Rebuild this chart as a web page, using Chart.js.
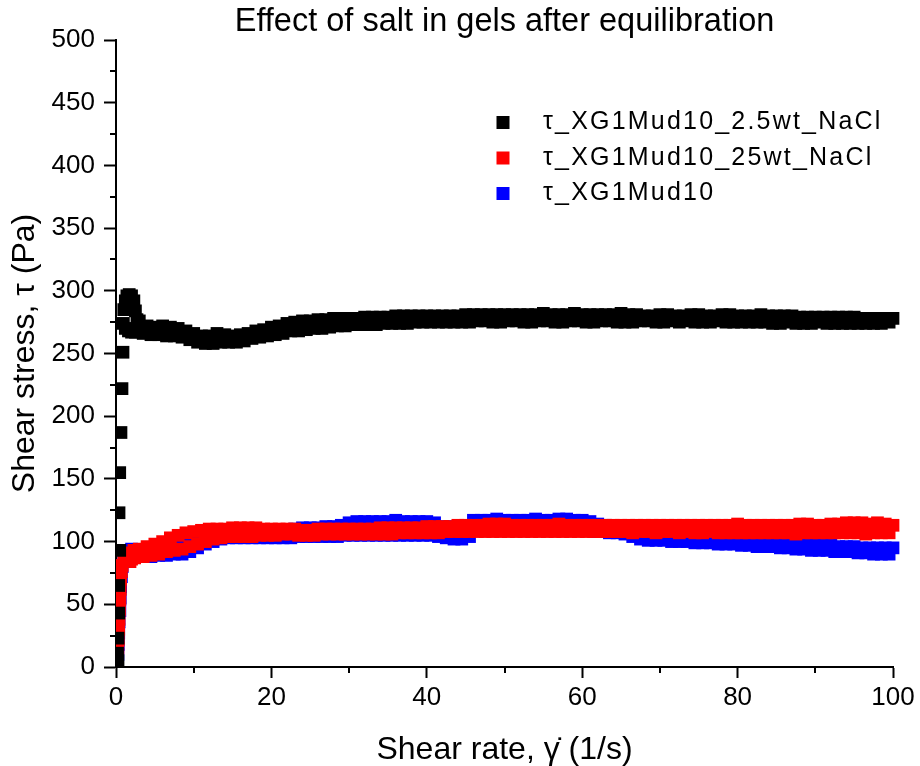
<!DOCTYPE html>
<html>
<head>
<meta charset="utf-8">
<title>Effect of salt in gels after equilibration</title>
<script src="https://cdn.jsdelivr.net/npm/chart.js@4.4.1/dist/chart.umd.min.js"></script>
<style>
  html, body { margin: 0; padding: 0; background: #ffffff; }
  #wrap { width: 920px; height: 766px; }
</style>
</head>
<body>
<div id="wrap"><canvas id="saltChart" width="920" height="766"></canvas></div>
<script>
// Shear rate grids (1/s). The steady part of each curve is read twice:
// along the upper edge of the band (whole numbers) and the lower edge (halves).
const shearRateUpper = [
  3, 4, 5, 6, 7, 8, 9, 10, 11, 12,
  13, 14, 15, 16, 17, 18, 19, 20, 21, 22,
  23, 24, 25, 26, 27, 28, 29, 30, 31, 32,
  33, 34, 35, 36, 37, 38, 39, 40, 41, 42,
  43, 44, 45, 46, 47, 48, 49, 50, 51, 52,
  53, 54, 55, 56, 57, 58, 59, 60, 61, 62,
  63, 64, 65, 66, 67, 68, 69, 70, 71, 72,
  73, 74, 75, 76, 77, 78, 79, 80, 81, 82,
  83, 84, 85, 86, 87, 88, 89, 90, 91, 92,
  93, 94, 95, 96, 97, 98, 99, 100
];
const shearRateLower = [
  3.5, 4.5, 5.5, 6.5, 7.5, 8.5, 9.5, 10.5, 11.5, 12.5,
  13.5, 14.5, 15.5, 16.5, 17.5, 18.5, 19.5, 20.5, 21.5, 22.5,
  23.5, 24.5, 25.5, 26.5, 27.5, 28.5, 29.5, 30.5, 31.5, 32.5,
  33.5, 34.5, 35.5, 36.5, 37.5, 38.5, 39.5, 40.5, 41.5, 42.5,
  43.5, 44.5, 45.5, 46.5, 47.5, 48.5, 49.5, 50.5, 51.5, 52.5,
  53.5, 54.5, 55.5, 56.5, 57.5, 58.5, 59.5, 60.5, 61.5, 62.5,
  63.5, 64.5, 65.5, 66.5, 67.5, 68.5, 69.5, 70.5, 71.5, 72.5,
  73.5, 74.5, 75.5, 76.5, 77.5, 78.5, 79.5, 80.5, 81.5, 82.5,
  83.5, 84.5, 85.5, 86.5, 87.5, 88.5, 89.5, 90.5, 91.5, 92.5,
  93.5, 94.5, 95.5, 96.5, 97.5, 98.5, 99.5
];

// τ_XG1Mud10_2.5wt_NaCl
const blackEarlyRate = [0.26, 0.2, 0.26, 0.35, 0.35, 0.48, 0.39, 0.48, 0.64, 0.77, 0.9,
  0.95, 1.2, 1.6, 2.0, 2.5, 1.0, 1.2, 1.4, 1.7, 2.0, 2.3, 2.5, 2.7];
const blackEarlyStress = [5, 11, 23, 43, 65, 93, 123, 155, 187, 222, 251,
  274, 270, 268, 267, 267, 285, 292, 296, 297, 296, 292, 284, 277];
const blackUpper = [
  276, 272, 271, 272, 271, 270, 268, 266, 264, 264,
  266, 265, 264, 265, 266, 268, 269, 271, 272, 274,
  275, 276, 276, 277, 277, 278, 278, 278, 278, 279,
  279, 279, 279, 280, 280, 280, 280, 280, 280, 280,
  280, 280, 281, 281, 281, 281, 281, 281, 281, 281,
  281, 281, 282, 281, 281, 281, 282, 281, 281, 281,
  281, 281, 282, 281, 281, 280, 280, 281, 281, 280,
  280, 281, 281, 280, 280, 281, 281, 280, 280, 280,
  281, 280, 280, 280, 280, 279, 279, 279, 279, 279,
  279, 279, 279, 278, 278, 278, 278, 278
];
const blackLower = [
  266, 265, 265, 264, 264, 263, 261, 259, 258, 258,
  259, 259, 259, 260, 262, 263, 264, 265, 266, 268,
  268, 269, 270, 270, 271, 272, 272, 273, 273, 273,
  273, 274, 274, 274, 274, 275, 275, 275, 275, 275,
  275, 275, 275, 276, 276, 275, 275, 276, 276, 275,
  275, 276, 276, 275, 275, 276, 276, 275, 275, 276,
  276, 275, 275, 275, 276, 276, 275, 275, 276, 275,
  276, 275, 275, 275, 276, 275, 275, 275, 275, 275,
  275, 274, 274, 275, 274, 274, 274, 275, 274, 274,
  274, 274, 274, 274, 274, 274, 275
];

// τ_XG1Mud10_25wt_NaCl
const redEarlyRate = [0.15, 0.2, 0.25, 0.3, 0.35, 0.4, 0.45, 0.5, 0.55, 0.6, 0.7, 0.8, 1.0, 1.3, 1.6, 2.0, 2.3, 1.8, 2.4];
const redEarlyStress = [2, 8, 15, 22, 30, 38, 46, 54, 62, 70, 76, 81, 85, 88, 91, 86, 93, 84, 87];
const redUpper = [
  94, 96, 98, 100, 103, 105, 107, 108, 109, 110,
  110, 110, 111, 111, 111, 111, 110, 110, 110, 110,
  110, 109, 109, 110, 110, 110, 110, 110, 110, 110,
  110, 111, 111, 111, 111, 111, 111, 112, 112, 112,
  112, 113, 113, 113, 113, 114, 114, 114, 113, 113,
  113, 113, 113, 113, 114, 113, 113, 113, 113, 113,
  113, 113, 113, 113, 113, 113, 113, 113, 113, 113,
  113, 113, 113, 113, 113, 113, 113, 114, 113, 113,
  113, 113, 113, 113, 113, 114, 114, 113, 113, 114,
  114, 115, 115, 115, 114, 115, 114, 113
];
const redLower = [
  88, 89, 90, 92, 93, 94, 96, 98, 100, 102,
  103, 104, 104, 104, 104, 105, 105, 105, 106, 106,
  105, 105, 105, 106, 106, 106, 106, 106, 106, 106,
  106, 106, 106, 107, 107, 107, 107, 107, 107, 108,
  108, 108, 108, 108, 108, 108, 108, 108, 108, 108,
  108, 108, 108, 108, 108, 108, 108, 108, 108, 108,
  108, 108, 108, 107, 108, 108, 107, 108, 108, 107,
  108, 107, 107, 108, 107, 107, 107, 107, 107, 107,
  107, 107, 107, 107, 106, 107, 107, 107, 107, 107,
  107, 107, 107, 106, 107, 107, 107
];

// τ_XG1Mud10
const blueEarlyRate = [0.2, 0.25, 0.3, 0.35, 0.4, 0.5, 0.55, 0.6, 0.7, 0.8, 1.0, 1.3, 1.6, 2.0, 2.4, 1.8, 2.6];
const blueEarlyStress = [3, 10, 18, 27, 36, 45, 55, 64, 72, 80, 86, 90, 93, 94, 93, 88, 89];
const blueUpper = [
  92, 92, 93, 94, 96, 98, 100, 102, 104, 105,
  106, 107, 107, 107, 107, 108, 108, 108, 108, 109,
  110, 111, 111, 111, 112, 112, 113, 115, 116, 116,
  116, 116, 116, 117, 116, 116, 116, 116, 115, 112,
  112, 111, 112, 117, 117, 117, 118, 117, 117, 117,
  117, 118, 117, 117, 118, 118, 117, 117, 116, 114,
  113, 112, 111, 110, 109, 108, 108, 107, 107, 106,
  106, 105, 105, 104, 104, 103, 103, 102, 102, 101,
  101, 100, 100, 99, 99, 98, 98, 97, 97, 97,
  96, 96, 96, 95, 95, 95, 95, 95
];
const blueLower = [
  88, 88, 89, 89, 90, 90, 92, 95, 98, 100,
  102, 103, 103, 103, 103, 103, 103, 103, 103, 103,
  104, 104, 104, 104, 104, 104, 105, 105, 105, 105,
  105, 105, 105, 105, 105, 105, 105, 105, 104, 103,
  102, 102, 104, 109, 109, 109, 109, 109, 109, 109,
  109, 109, 109, 109, 109, 109, 109, 109, 108, 108,
  107, 107, 106, 104, 102, 101, 101, 101, 100, 100,
  100, 99, 99, 99, 98, 98, 98, 97, 97, 96,
  96, 96, 95, 95, 94, 94, 93, 93, 93, 92,
  92, 92, 91, 91, 90, 90, 90
];

const seriesLabels = ['τ_XG1Mud10_2.5wt_NaCl', 'τ_XG1Mud10_25wt_NaCl', 'τ_XG1Mud10'];
const seriesColors = ['#000000', '#ff0000', '#0000ff'];

const FONT = '"Liberation Sans", Arial, sans-serif';

function toPoints(earlyRate, earlyStress, upper, lower) {
    const pts = [];
    earlyRate.forEach((x, i) => pts.push({ x: x, y: earlyStress[i] }));
    shearRateUpper.forEach((x, i) => pts.push({ x: x, y: upper[i] }));
    shearRateLower.forEach((x, i) => pts.push({ x: x, y: lower[i] }));
    return pts;
}

function makeDataset(idx, points) {
    return {
        label: seriesLabels[idx],
        data: points,
        showLine: false,
        pointStyle: 'rect',
        pointRadius: 9,
        pointHoverRadius: 9,
        pointBorderWidth: 0,
        backgroundColor: seriesColors[idx],
        borderColor: seriesColors[idx],
        clip: { left: 0, bottom: 0, top: 10, right: 10 }
    };
}

// short unlabeled ticks halfway between the labelled ones
const minorTicks = {
    id: 'minorTicks',
    afterDraw(chart, args, opts) {
        const ctx = chart.ctx;
        ctx.save();
        ctx.strokeStyle = '#000';
        ctx.lineWidth = 2;
        ['x', 'y'].forEach(id => {
            const scale = chart.scales[id];
            const ticks = scale.ticks;
            for (let i = 0; i < ticks.length - 1; i++) {
                const mid = (ticks[i].value + ticks[i + 1].value) / 2;
                const p = Math.round(scale.getPixelForValue(mid));
                ctx.beginPath();
                if (id === 'x') {
                    ctx.moveTo(p, scale.top);
                    ctx.lineTo(p, scale.top + opts.length);
                } else {
                    ctx.moveTo(scale.right, p);
                    ctx.lineTo(scale.right - opts.length, p);
                }
                ctx.stroke();
            }
        });
        ctx.restore();
    }
};

// legend sitting inside the plot, upper right
const insetLegend = {
    id: 'insetLegend',
    afterDraw(chart, args, opts) {
        const ctx = chart.ctx;
        ctx.save();
        ctx.font = opts.fontSize + 'px ' + FONT;
        if ('letterSpacing' in ctx) ctx.letterSpacing = opts.letterSpacing;
        ctx.textBaseline = 'middle';
        ctx.textAlign = 'left';
        chart.data.datasets.forEach((ds, i) => {
            const y = opts.y + i * opts.rowGap;
            ctx.fillStyle = ds.backgroundColor;
            ctx.fillRect(opts.x - opts.box / 2, y - opts.box / 2, opts.box, opts.box);
            ctx.fillStyle = '#000';
            ctx.fillText(ds.label, opts.textX, y);
        });
        ctx.restore();
    }
};

const ctx = document.getElementById('saltChart').getContext('2d');

new Chart(ctx, {
    type: 'scatter',
    data: {
        datasets: [
            makeDataset(0, toPoints(blackEarlyRate, blackEarlyStress, blackUpper, blackLower)),
            makeDataset(1, toPoints(redEarlyRate, redEarlyStress, redUpper, redLower)),
            makeDataset(2, toPoints(blueEarlyRate, blueEarlyStress, blueUpper, blueLower))
        ]
    },
    options: {
        responsive: false,
        animation: false,
        events: [],
        layout: { padding: { left: 0, right: 27, top: 0, bottom: 0 } },
        plugins: {
            legend: { display: false },
            tooltip: { enabled: false },
            title: {
                display: true,
                fullSize: false,
                text: 'Effect of salt in gels after equilibration',
                color: '#000',
                font: { family: FONT, size: 32.5, weight: 'normal', lineHeight: 1.1 },
                padding: { top: 4, bottom: 0.25 }
            },
            minorTicks: { length: 6 },
            insetLegend: { x: 503, y: 122.5, rowGap: 35.5, box: 13, textX: 543, fontSize: 25, letterSpacing: '2.2px' }
        },
        scales: {
            x: {
                type: 'linear',
                min: 0,
                max: 100,
                z: 1,
                ticks: {
                    stepSize: 20,
                    color: '#000',
                    padding: 4,
                    maxRotation: 0,
                    font: { family: FONT, size: 26 }
                },
                grid: { display: true, drawOnChartArea: false, drawTicks: true, tickLength: 11, tickWidth: 2, tickColor: '#000' },
                border: { display: true, color: '#000', width: 2 },
                title: {
                    display: true,
                    text: 'Shear rate, γ̇ (1/s)',
                    color: '#000',
                    font: { family: FONT, size: 32, lineHeight: 1 },
                    padding: { top: 0, bottom: 0 }
                },
                afterFit(scale) { scale.height = 99; }
            },
            y: {
                type: 'linear',
                min: 0,
                max: 500,
                z: 1,
                ticks: {
                    stepSize: 50,
                    color: '#000',
                    padding: 9,
                    font: { family: FONT, size: 26 }
                },
                grid: { display: true, drawOnChartArea: false, drawTicks: true, tickLength: 12, tickWidth: 2, tickColor: '#000' },
                border: { display: true, color: '#000', width: 2 },
                title: {
                    display: true,
                    text: 'Shear stress, τ (Pa)',
                    color: '#000',
                    font: { family: FONT, size: 32, lineHeight: 1 },
                    padding: { top: 9, bottom: 0 }
                },
                afterFit(scale) { scale.width = 116; }
            }
        }
    },
    plugins: [minorTicks, insetLegend]
});
</script>
</body>
</html>
